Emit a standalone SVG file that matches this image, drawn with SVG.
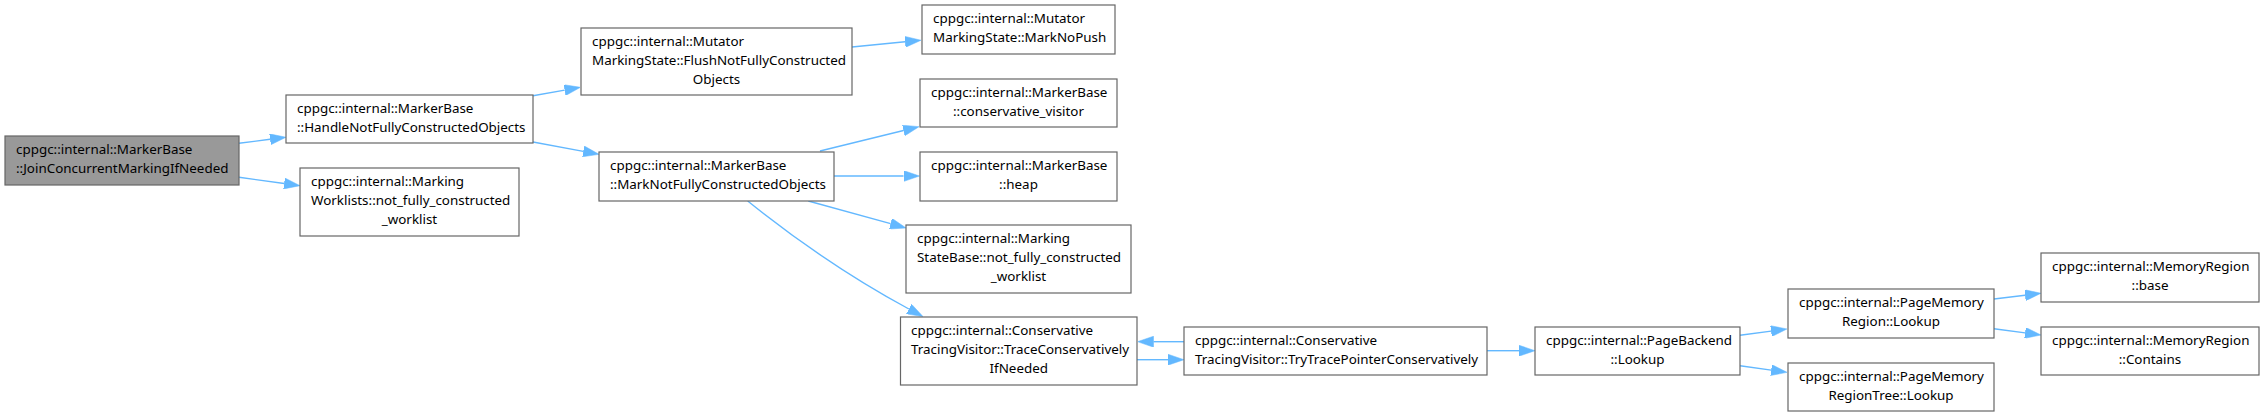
<svg xmlns="http://www.w3.org/2000/svg" width="2264" height="417" viewBox="0 0 2264 417">
<style>
.n rect{fill:#ffffff;stroke:#666666;stroke-width:1.2}
.n.cur rect{fill:#999999}
.n text{font-family:"Noto Sans","Open Sans","DejaVu Sans",sans-serif;font-size:13.4px;fill:#000000}
.n text.c{text-anchor:middle}
.e path{fill:none;stroke:#63b8ff;stroke-width:1.4;marker-end:url(#ah)}
</style>
<defs>
<marker id="ah" viewBox="0 0 16 11" refX="0" refY="5.5" markerWidth="16" markerHeight="11" markerUnits="userSpaceOnUse" orient="auto">
<path d="M0,0 L16,5.5 L0,11 z" fill="#63b8ff" stroke="#63b8ff" stroke-width="0.5"/>
</marker>
</defs>
<rect width="2264" height="417" fill="#ffffff"/>
<g id="edges" class="e">
<path d="M239,143.3 L270.1,139.3"/>
<path d="M239,177.3 L284.2,183.5"/>
<path d="M533,95.7 L564.7,90.1"/>
<path d="M533,142 L583.3,151.4"/>
<path d="M852,47 L905.1,41.8"/>
<path d="M820,151 L903.5,130.5"/>
<path d="M834,176 L903.5,176"/>
<path d="M808.3,201 L890.6,223.7"/>
<path d="M747.7,201 C800,243 855,280 908.9,309"/>
<path d="M1184,341.7 L1153.5,341.7"/>
<path d="M1137,359.7 L1168,359.7"/>
<path d="M1487,350.7 L1519,350.7"/>
<path d="M1740,335.3 L1771.1,331.1"/>
<path d="M1740,365.7 L1771.2,370.1"/>
<path d="M1994,299 L2025.1,295.2"/>
<path d="M1994,328.7 L2025.1,332.9"/>
</g>
<g id="node-join" class="n cur">
<rect x="5" y="136" width="234" height="49"/>
<text x="16" y="154">cppgc::internal::MarkerBase</text>
<text x="16" y="173">::JoinConcurrentMarkingIfNeeded</text>
</g>
<g id="node-handle" class="n">
<rect x="286" y="95" width="247" height="48"/>
<text x="297" y="113">cppgc::internal::MarkerBase</text>
<text x="297" y="132">::HandleNotFullyConstructedObjects</text>
</g>
<g id="node-worklists" class="n">
<rect x="300" y="168" width="219" height="68"/>
<text x="311" y="186">cppgc::internal::Marking</text>
<text x="311" y="205">Worklists::not_fully_constructed</text>
<text class="c" x="409.5" y="224">_worklist</text>
</g>
<g id="node-flush" class="n">
<rect x="581" y="28" width="271" height="67"/>
<text x="592" y="46">cppgc::internal::Mutator</text>
<text x="592" y="65">MarkingState::FlushNotFullyConstructed</text>
<text class="c" x="716.5" y="84">Objects</text>
</g>
<g id="node-marknot" class="n">
<rect x="599" y="152" width="235" height="49"/>
<text x="610" y="170">cppgc::internal::MarkerBase</text>
<text x="610" y="189">::MarkNotFullyConstructedObjects</text>
</g>
<g id="node-marknopush" class="n">
<rect x="922" y="5" width="193" height="49"/>
<text x="933" y="23">cppgc::internal::Mutator</text>
<text x="933" y="42">MarkingState::MarkNoPush</text>
</g>
<g id="node-consvisitor" class="n">
<rect x="920" y="79" width="197" height="48"/>
<text x="931" y="97">cppgc::internal::MarkerBase</text>
<text class="c" x="1018.5" y="116">::conservative_visitor</text>
</g>
<g id="node-heap" class="n">
<rect x="920" y="152" width="197" height="49"/>
<text x="931" y="170">cppgc::internal::MarkerBase</text>
<text class="c" x="1018.5" y="189">::heap</text>
</g>
<g id="node-statebase" class="n">
<rect x="906" y="225" width="225" height="68"/>
<text x="917" y="243">cppgc::internal::Marking</text>
<text x="917" y="262">StateBase::not_fully_constructed</text>
<text class="c" x="1018.5" y="281">_worklist</text>
</g>
<g id="node-trace" class="n">
<rect x="900.5" y="317" width="236.5" height="68"/>
<text x="911" y="335">cppgc::internal::Conservative</text>
<text x="911" y="354">TracingVisitor::TraceConservatively</text>
<text class="c" x="1018.75" y="373">IfNeeded</text>
</g>
<g id="node-trytrace" class="n">
<rect x="1184" y="327" width="303" height="48"/>
<text x="1195" y="345">cppgc::internal::Conservative</text>
<text x="1195" y="364">TracingVisitor::TryTracePointerConservatively</text>
</g>
<g id="node-pagebackend" class="n">
<rect x="1535" y="327" width="205" height="48"/>
<text x="1546" y="345">cppgc::internal::PageBackend</text>
<text class="c" x="1637.5" y="364">::Lookup</text>
</g>
<g id="node-pmr" class="n">
<rect x="1788" y="289" width="206" height="49"/>
<text x="1799" y="307">cppgc::internal::PageMemory</text>
<text class="c" x="1891" y="326">Region::Lookup</text>
</g>
<g id="node-pmrt" class="n">
<rect x="1788" y="363" width="206" height="48"/>
<text x="1799" y="381">cppgc::internal::PageMemory</text>
<text class="c" x="1891" y="400">RegionTree::Lookup</text>
</g>
<g id="node-base" class="n">
<rect x="2041" y="253" width="218" height="49"/>
<text x="2052" y="271">cppgc::internal::MemoryRegion</text>
<text class="c" x="2150" y="290">::base</text>
</g>
<g id="node-contains" class="n">
<rect x="2041" y="327" width="218" height="48"/>
<text x="2052" y="345">cppgc::internal::MemoryRegion</text>
<text class="c" x="2150" y="364">::Contains</text>
</g>
</svg>
